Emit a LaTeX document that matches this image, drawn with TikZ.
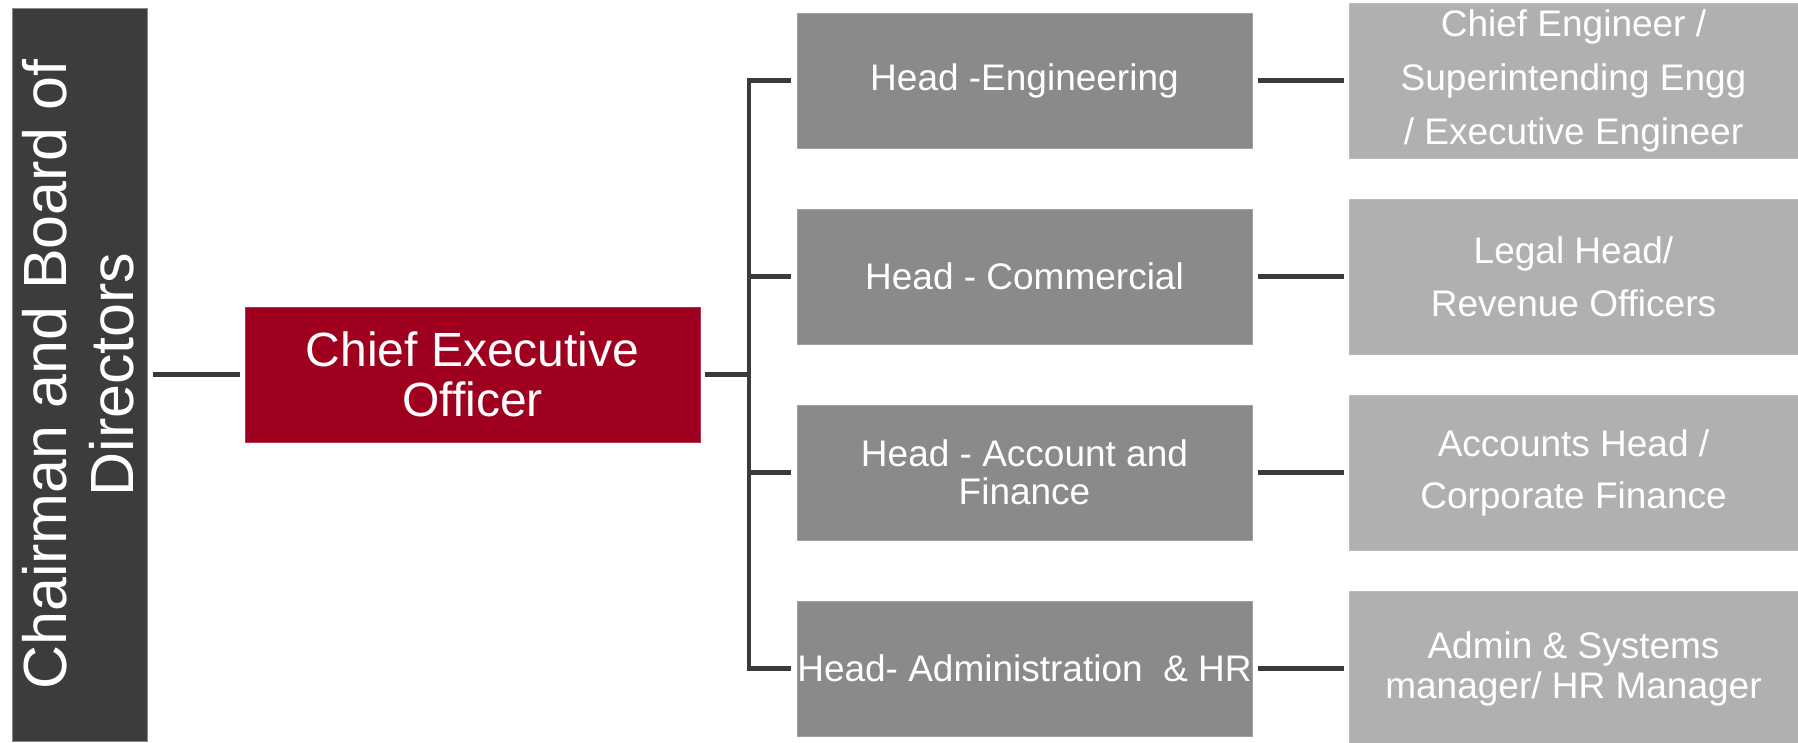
\documentclass[tikz,border=0pt]{standalone}
\usepackage{fontspec}
\setmainfont{Liberation Sans}
\definecolor{chairc}{HTML}{3C3C3B}
\definecolor{ceoc}{HTML}{A0001F}
\definecolor{headc}{HTML}{8A8A89}
\definecolor{subc}{HTML}{B0B0AF}
\definecolor{linec}{HTML}{3A3A3A}
\tikzset{
  box/.style={rectangle, inner sep=0pt, outer sep=0pt, text=white, align=center, line width=0.8pt},
  chairbox/.style={box, fill=chairc, draw=chairc!60!white, minimum width=135pt, minimum height=733pt},
  ceobox/.style={box, fill=ceoc, draw=ceoc!80!white, minimum width=455pt, minimum height=135pt},
  headbox/.style={box, fill=headc, draw=headc!80!white, minimum width=455pt, minimum height=135pt},
  subbox/.style={box, fill=subc, draw=subc!85!white, minimum width=449pt, minimum height=155pt},
  conn/.style={draw=linec, line width=4.5pt, line join=miter},
}
\begin{document}
\begin{tikzpicture}[x=1pt,y=-1pt]
\useasboundingbox (0,0) rectangle (1798,743);
\node[chairbox] (chair) at (79.5,374.5) {};
\node[text=white, align=center, rotate=90, inner sep=0pt, font=\fontsize{61}{67}\selectfont] (chairtxt) at (78,374.5) {Chairman and Board of\\Directors};
\node[ceobox, font=\fontsize{48}{50}\selectfont] (ceo) at (472.5,374.5) {Chief Executive\\Officer};
\node[headbox, font=\fontsize{37}{38}\selectfont] (h1) at (1024.5,80.5) {Head -Engineering};
\node[headbox, font=\fontsize{37}{38}\selectfont] (h2) at (1024.5,276.5) {Head - Commercial};
\node[headbox, font=\fontsize{37}{38}\selectfont] (h3) at (1024.5,472.5) {Head - Account and\\Finance};
\node[headbox, font=\fontsize{37}{38}\selectfont] (h4) at (1024.5,668.5) {Head- Administration\ \ \& HR};
\node[subbox, font=\fontsize{37}{54}\selectfont] (r1) at (1573.5,80.5) {Chief Engineer /\\Superintending Engg\\/ Executive Engineer};
\node[subbox, font=\fontsize{37}{53}\selectfont] (r2) at (1573.5,276.5) {Legal Head/\\Revenue Officers};
\node[subbox, font=\fontsize{37}{52}\selectfont] (r3) at (1573.5,472.5) {Accounts Head /\\Corporate Finance};
\node[subbox, font=\fontsize{37}{40}\selectfont] (r4) at (1573.5,668.5) {Admin \& Systems\\manager/ HR Manager};
\coordinate (bus) at (749,374.5);
\draw[conn] ([xshift=6pt]chair.east) -- ([xshift=-5pt]ceo.west);
\draw[conn] ([xshift=5pt]ceo.east) -- (bus);
\draw[conn] ([xshift=-6pt]h1.west) -| (bus |- h4.west) -- ([xshift=-6pt]h4.west);
\draw[conn] ([xshift=-6pt]h2.west) -- (bus |- h2.west);
\draw[conn] ([xshift=-6pt]h3.west) -- (bus |- h3.west);
\foreach \i in {1,2,3,4} {
  \draw[conn] ([xshift=6pt]h\i.east) -- ([xshift=-5pt]r\i.west);
}
\end{tikzpicture}
\end{document}
